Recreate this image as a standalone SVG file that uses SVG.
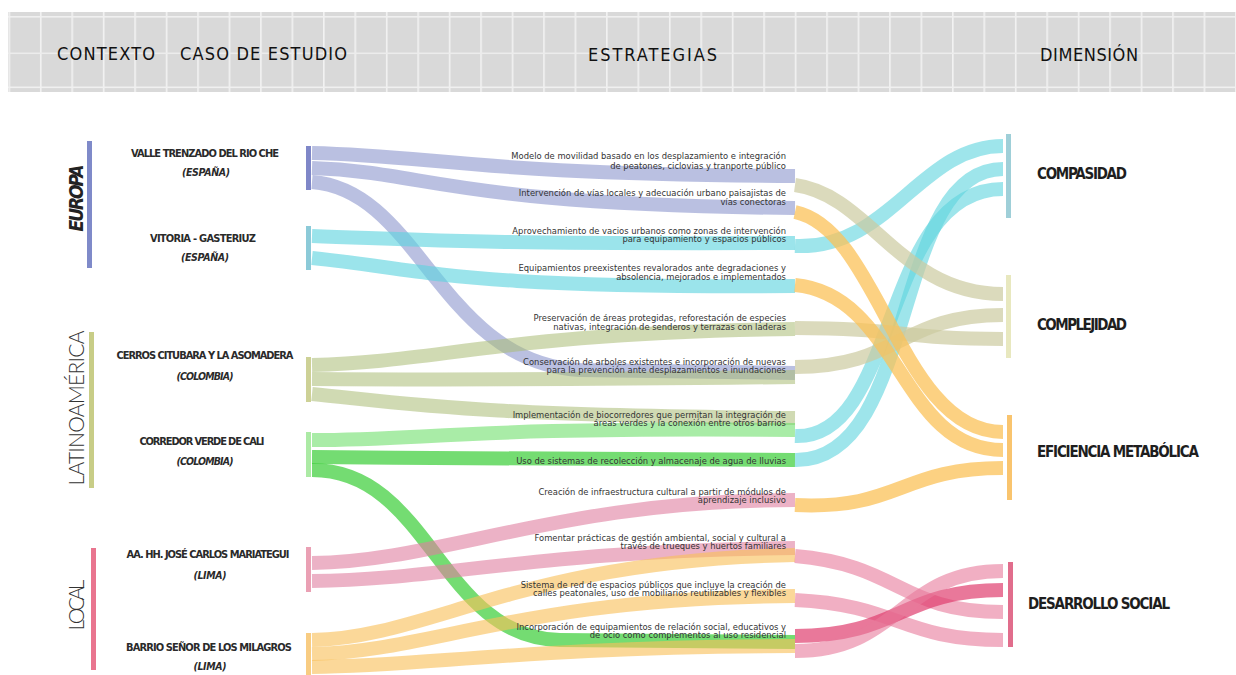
<svg xmlns="http://www.w3.org/2000/svg" width="1236" height="675" viewBox="0 0 1236 675">
<defs>
<style>
.hdr{font-family:"Liberation Sans Narrow","DejaVu Sans Condensed","Liberation Sans",sans-serif;font-size:18px;fill:#111;}
.case{font-family:"Liberation Sans Narrow","DejaVu Sans Condensed","Liberation Sans",sans-serif;font-size:11px;font-weight:bold;fill:#2a2a2a;text-anchor:middle;}
.ctry{font-family:"Liberation Sans Narrow","DejaVu Sans Condensed","Liberation Sans",sans-serif;font-size:10.5px;font-weight:bold;font-style:italic;fill:#2a2a2a;text-anchor:middle;}
.ctx{font-family:"Lato","Open Sans","Liberation Sans",sans-serif;font-size:21px;font-weight:300;fill:#333;text-anchor:middle;}
.ctxb{font-family:"Liberation Sans Narrow","DejaVu Sans Condensed","Liberation Sans",sans-serif;font-size:19px;font-weight:bold;font-style:italic;fill:#222;text-anchor:middle;}
.st{font-family:"DejaVu Sans","Liberation Sans",sans-serif;font-size:8.4px;fill:#333;text-anchor:end;}
.dim{font-family:"Liberation Sans Narrow","DejaVu Sans Condensed","Liberation Sans",sans-serif;font-size:15px;font-weight:bold;fill:#1e1e1e;}
.f{fill:none;stroke-width:14;}
.lav{stroke:#8f99cf;stroke-opacity:.62;}
.tea{stroke:#5ed4de;stroke-opacity:.62;}
.oli{stroke:#a9bc74;stroke-opacity:.55;}
.lgr{stroke:#6fdf6c;stroke-opacity:.6;}
.gr{stroke:#45d043;stroke-opacity:.75;}
.pk{stroke:#e07ea0;stroke-opacity:.6;}
.or{stroke:#f9c05a;stroke-opacity:.62;}
.rte{stroke:#5ed4de;stroke-opacity:.6;}
.rol{stroke:#cccaa0;stroke-opacity:.7;}
.ror{stroke:#fbc158;stroke-opacity:.75;}
.rpk{stroke:#e7799b;stroke-opacity:.6;}
.rdp{stroke:#df3f6f;stroke-opacity:.7;}
</style>
<pattern id="grid" x="8.5" y="0" width="31.45" height="675" patternUnits="userSpaceOnUse">
<rect x="0" y="0" width="1.6" height="675" fill="#f2f2f2"/>
</pattern>
</defs>
<rect width="1236" height="675" fill="#ffffff"/>
<g id="header">
<rect x="8" y="12" width="1228" height="80" fill="#d9d9d9"/>
<rect x="8" y="12" width="1228" height="80" fill="url(#grid)"/>
<rect x="8" y="16" width="1228" height="1.6" fill="#f0f0f0"/>
<rect x="8" y="52.5" width="1228" height="1.6" fill="#ececec"/>
<rect x="8" y="86.5" width="1228" height="1.6" fill="#f0f0f0"/>
<text class="hdr" x="57" y="60" textLength="98">CONTEXTO</text>
<text class="hdr" x="180" y="60" textLength="167">CASO DE ESTUDIO</text>
<text class="hdr" x="588" y="61" textLength="129">ESTRATEGIAS</text>
<text class="hdr" x="1040" y="61" textLength="98">DIMENSIÓN</text>
</g>
<g id="connectors">
<path class="f lav" d="M312,153 C440,156 470,174 795,176"/>
<path class="f lav" d="M312,168 C430,172 450,205 795,208"/>
<path class="f lav" d="M312,182 C420,190 440,362 580,370 L795,373"/>
<path class="f tea" d="M312,236 C430,240 450,244 795,243"/>
<path class="f tea" d="M312,258 C430,270 450,288 795,286"/>
<path class="f oli" d="M312,365 C440,362 500,333 795,329"/>
<path class="f oli" d="M312,379 C450,380 550,380 795,377"/>
<path class="f oli" d="M312,394 C420,405 470,415 795,418"/>
<path class="f lgr" d="M312,440 C430,440 460,427 795,430"/>
<path class="f gr" d="M312,457 C450,458 550,460 795,460"/>
<path class="f gr" d="M312,470 C430,470 440,638 560,640 L795,642"/>
<path class="f pk" d="M312,563 C440,562 560,500 795,500"/>
<path class="f pk" d="M312,581 C440,580 540,550 795,548"/>
<path class="f or" d="M312,640 C430,638 520,560 795,555"/>
<path class="f or" d="M312,654 C430,652 520,598 795,596"/>
<path class="f or" d="M312,667 C430,666 520,647 795,646"/>
<path class="f rte" d="M795,246 C890,250 920,146 1003,146"/>
<path class="f rte" d="M795,436 C900,440 880,189 1003,189"/>
<path class="f rte" d="M795,460 C920,462 890,169 1003,169"/>
<path class="f rol" d="M795,185 C870,195 900,294 1003,294"/>
<path class="f rol" d="M795,328 C900,328 900,339 1003,339"/>
<path class="f rol" d="M795,367 C900,367 900,315 1003,315"/>
<path class="f ror" d="M795,212 C880,230 900,432 1003,432"/>
<path class="f ror" d="M795,285 C900,295 900,450 1003,450"/>
<path class="f ror" d="M795,505 C900,510 900,468 1003,468"/>
<path class="f rpk" d="M795,556 C900,565 900,612 1003,612"/>
<path class="f rpk" d="M795,600 C900,605 900,640 1003,640"/>
<path class="f rdp" d="M795,636 C900,636 900,590 1003,590"/>
<path class="f rpk" d="M795,651 C900,651 900,571 1003,571"/>
</g>
<g id="ctx-europa">
<rect x="87" y="141" width="5" height="127" fill="#7f8ac9"/>
<text class="ctxb" transform="translate(83,198) rotate(-90)" textLength="67">EUROPA</text>
</g>
<g id="ctx-latam">
<rect x="89" y="332" width="5" height="156" fill="#c8cd87"/>
<text class="ctx" transform="translate(84,408) rotate(-90)" textLength="155">LATINOAMÉRICA</text>
</g>
<g id="ctx-local">
<rect x="91" y="548" width="5" height="122" fill="#e9758f"/>
<text class="ctx" transform="translate(84,605) rotate(-90)" textLength="51">LOCAL</text>
</g>
<g id="case-valle">
<rect x="306" y="146" width="5" height="44" fill="#7f87c8"/>
<text class="case" x="205" y="157" textLength="148">VALLE TRENZADO DEL RIO CHE</text>
<text class="ctry" x="206" y="176" textLength="48">(ESPAÑA)</text>
</g>
<g id="case-vitoria">
<rect x="306" y="226" width="5" height="44" fill="#8ccad8"/>
<text class="case" x="203" y="242" textLength="106">VITORIA - GASTERIUZ</text>
<text class="ctry" x="205" y="261" textLength="48">(ESPAÑA)</text>
</g>
<g id="case-cerros">
<rect x="306" y="357" width="5" height="45" fill="#cdd196"/>
<text class="case" x="205" y="359" textLength="177">CERROS CITUBARA Y LA ASOMADERA</text>
<text class="ctry" x="205" y="380" textLength="57">(COLOMBIA)</text>
</g>
<g id="case-corredor">
<rect x="306" y="432" width="5" height="45" fill="#aceaa5"/>
<text class="case" x="202" y="445" textLength="125">CORREDOR VERDE DE CALI</text>
<text class="ctry" x="205" y="465" textLength="57">(COLOMBIA)</text>
</g>
<g id="case-mariategui">
<rect x="306" y="547" width="5" height="45" fill="#eaa0b4"/>
<text class="case" x="208" y="558" textLength="163">AA. HH. JOSÉ CARLOS MARIATEGUI</text>
<text class="ctry" x="210" y="579" textLength="33">(LIMA)</text>
</g>
<g id="case-barrio">
<rect x="306" y="633" width="5" height="42" fill="#f8cc82"/>
<text class="case" x="209" y="651" textLength="166">BARRIO SEÑOR DE LOS MILAGROS</text>
<text class="ctry" x="210" y="670" textLength="33">(LIMA)</text>
</g>
<g id="strategies">
<g id="s1"><text class="st" x="786" y="159">Modelo de movilidad basado en los desplazamiento e integración</text><text class="st" x="786" y="169">de peatones, ciclovias y tranporte público</text></g>
<g id="s2"><text class="st" x="786" y="196">Intervención de vías locales y adecuación urbano paisajistas de</text><text class="st" x="786" y="204.5">vías conectoras</text></g>
<g id="s3"><text class="st" x="786" y="234">Aprovechamiento de vacios urbanos como zonas de intervención</text><text class="st" x="786" y="242">para equipamiento y espacios públicos</text></g>
<g id="s4"><text class="st" x="786" y="271">Equipamientos preexistentes revalorados ante degradaciones y</text><text class="st" x="786" y="280">absolencia, mejorados e implementados</text></g>
<g id="s5"><text class="st" x="786" y="321">Preservación de áreas protegidas, reforestación de especies</text><text class="st" x="786" y="330">nativas, integración de senderos y terrazas con laderas</text></g>
<g id="s6"><text class="st" x="786" y="364.5">Conservación de arboles existentes e incorporación de nuevas</text><text class="st" x="786" y="373">para la prevención ante desplazamientos e inundaciones</text></g>
<g id="s7"><text class="st" x="786" y="418">Implementación de biocorredores que permitan la integración de</text><text class="st" x="786" y="426">áreas verdes y la conexión entre otros barrios</text></g>
<g id="s8"><text class="st" x="786" y="463.5">Uso de sistemas de recolección y almacenaje de agua de lluvias</text></g>
<g id="s9"><text class="st" x="786" y="494.5">Creación de infraestructura cultural a partir de módulos de</text><text class="st" x="786" y="503">aprendizaje inclusivo</text></g>
<g id="s10"><text class="st" x="786" y="541">Fomentar prácticas de gestión ambiental, social y cultural a</text><text class="st" x="786" y="549">través de trueques y huertos familiares</text></g>
<g id="s11"><text class="st" x="786" y="588">Sistema de red de espacios públicos que incluye la creación de</text><text class="st" x="786" y="596">calles peatonales, uso de mobiliarios reutilizables y flexibles</text></g>
<g id="s12"><text class="st" x="786" y="629.5">Incorporación de equipamientos de relación social, educativos y</text><text class="st" x="786" y="638">de ocio como complementos al uso residencial</text></g>
</g>
<g id="dim-compasidad">
<rect x="1006" y="134" width="5" height="84" fill="#9fcfd8"/>
<text class="dim" x="1037" y="179" textLength="90">COMPASIDAD</text>
</g>
<g id="dim-complejidad">
<rect x="1006" y="275" width="5" height="83" fill="#e8e8bf"/>
<text class="dim" x="1037" y="330" textLength="90">COMPLEJIDAD</text>
</g>
<g id="dim-eficiencia">
<rect x="1007" y="415" width="5" height="85" fill="#f9c46e"/>
<text class="dim" x="1037" y="457" textLength="162">EFICIENCIA METABÓLICA</text>
</g>
<g id="dim-desarrollo">
<rect x="1008" y="562" width="5" height="85" fill="#e16d8c"/>
<text class="dim" x="1028" y="609" textLength="142">DESARROLLO SOCIAL</text>
</g>
</svg>
